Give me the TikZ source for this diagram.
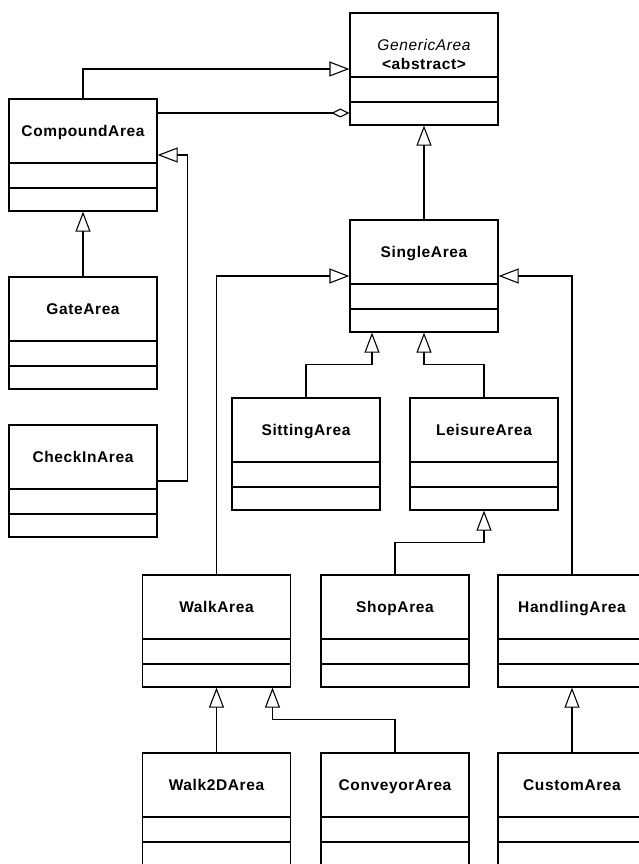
\documentclass[tikz,border=0pt]{standalone}
\usepackage{fontspec}
\setmainfont{Liberation Sans}
\newfontfamily\classfont{Liberation Sans}[LetterSpace=4]
\usetikzlibrary{arrows.meta}

\begin{document}
\begin{tikzpicture}[x=1pt, y=-1pt]
    % Styles
    \tikzstyle{umlclass} = [draw, line width=1.2pt, minimum width=148pt, inner sep=0pt, text height=37.5pt, text depth=74.5pt, align=center, font=\classfont\bfseries\fontsize{15.5}{19.5}\selectfont,
        path picture={
            \draw[line width=1.2pt] ([yshift=-64pt]path picture bounding box.north west) -- ([yshift=-64pt]path picture bounding box.north east);
            \draw[line width=1.2pt] ([yshift=-89pt]path picture bounding box.north west) -- ([yshift=-89pt]path picture bounding box.north east);
        }]
    \tikzstyle{inherit} = [-{Triangle[open, length=20pt, width=15pt]}, line width=1.1pt]
    \tikzstyle{aggregate} = [-{Diamond[open, length=18pt, width=9pt]}, line width=1.1pt]

    \useasboundingbox (0,0) rectangle (639,864);

    % Nodes
    \node[umlclass, text height=57pt, text depth=55pt] (generic) at (424,69) {{\mdseries\itshape GenericArea}\\<abstract>};
    \node[umlclass] (compound) at (83,155) {CompoundArea};
    \node[umlclass] (single) at (424,276) {SingleArea};
    \node[umlclass] (gate) at (83,333) {GateArea};
    \node[umlclass] (checkin) at (83,481) {CheckInArea};
    \node[umlclass] (sitting) at (306,454) {SittingArea};
    \node[umlclass] (leisure) at (484,454) {LeisureArea};
    \node[umlclass] (walk) at (216.5,631) {WalkArea};
    \node[umlclass] (shop) at (395,631) {ShopArea};
    \node[umlclass] (handling) at (572,631) {HandlingArea};
    \node[umlclass] (walk2d) at (216.5,809) {Walk2DArea};
    \node[umlclass] (conveyor) at (395,809) {ConveyorArea};
    \node[umlclass] (custom) at (572,809) {CustomArea};

    % Inheritance arrows
    \draw[inherit] (compound.north) |- (generic.west);
    \draw[inherit] (single.north) -- (generic.south);
    \draw[inherit] (gate.north) -- (compound.south);
    \draw[inherit] (checkin.east) -- ++(30,0) |- (compound.east);
    \draw[inherit] (walk.north) |- (single.west);
    \draw[inherit] (handling.north) |- (single.east);
    \draw[inherit] (sitting.north) -- ++(0,-33) -| ([xshift=-52pt]single.south);
    \draw[inherit] (leisure.north) -- ++(0,-33) -| (single.south);
    \draw[inherit] (shop.north) -- ++(0,-32) -| (leisure.south);
    \draw[inherit] (walk2d.north) -- (walk.south);
    \draw[inherit] (conveyor.north) -- ++(0,-33) -| ([xshift=56pt]walk.south);
    \draw[inherit] (custom.north) -- (handling.south);

    % Aggregation
    \draw[aggregate] ([yshift=42pt]compound.east) -- ([yshift=42pt]compound.east -| generic.west);
\end{tikzpicture}
\end{document}
